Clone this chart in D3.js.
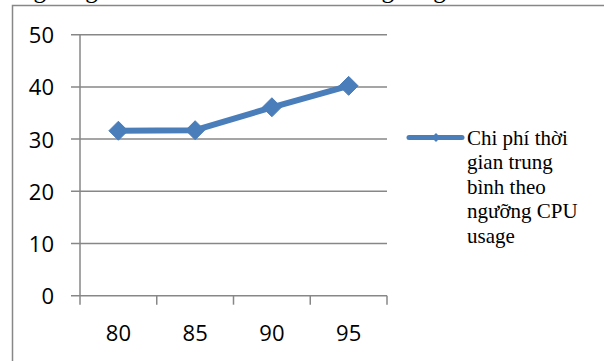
<!DOCTYPE html>
<html>
<head>
<meta charset="utf-8">
<script src="https://cdn.jsdelivr.net/npm/d3@7"></script>
<style>
  html, body { margin: 0; padding: 0; background: #fff; }
  svg { display: block; }
</style>
</head>
<body>
<svg id="chart" width="604" height="361"></svg>
<script>
// CPU usage thresholds (%) and average time cost at each threshold
const categories = ["80", "85", "90", "95"];
const values = [31.6, 31.7, 36.1, 40.2];
const yTicks = [0, 10, 20, 30, 40, 50];
const seriesName = "Chi phí thời gian trung bình theo ngưỡng CPU usage";
const legendLines = ["Chi phí thời", "gian trung", "bình theo", "ngưỡng CPU", "usage"];
const captionWords = ["ngưỡng", "ngưỡng"];

const svg = d3.select("#chart");
const gridColor = "#878787";
const blue = "#4a7ebb";

// caption line above the chart frame (only its lower edge falls inside the view)
svg.selectAll("text.caption")
  .data(captionWords)
  .join("text")
  .attr("class", "caption")
  .attr("x", (d, i) => [21, 369][i])
  .attr("y", -2.5)
  .attr("font-family", "Liberation Serif, Times New Roman, serif")
  .attr("font-size", 25)
  .attr("fill", "#000")
  .text(d => d);

// chart frame
svg.append("path")
  .attr("d", "M12.5,361 V5.5 H604")
  .attr("fill", "none")
  .attr("stroke", gridColor)
  .attr("stroke-width", 1.5);

const plot = { left: 80, right: 387, top: 34.7, bottom: 295.7 };

const x = d3.scaleBand()
  .domain(categories)
  .range([plot.left, plot.right])
  .padding(0);

const y = d3.scaleLinear()
  .domain([0, 50])
  .range([plot.bottom, plot.top]);

// horizontal gridlines with short outward ticks
svg.append("g")
  .selectAll("line")
  .data(yTicks)
  .join("line")
  .attr("x1", plot.left - 9)
  .attr("x2", plot.right)
  .attr("y1", d => y(d))
  .attr("y2", d => y(d))
  .attr("stroke", gridColor)
  .attr("stroke-width", 1.5);

// vertical axis line
svg.append("line")
  .attr("x1", plot.left).attr("x2", plot.left)
  .attr("y1", y(50)).attr("y2", y(0))
  .attr("stroke", gridColor)
  .attr("stroke-width", 1.5);

// y tick labels
const yAxis = d3.axisLeft(y).tickValues(yTicks).tickSize(0).tickPadding(0);
const gy = svg.append("g")
  .attr("transform", `translate(${plot.left - 26},0)`)
  .call(yAxis);
gy.select(".domain").remove();
gy.selectAll("text")
  .attr("font-family", "Open Sans, Lato, sans-serif")
  .attr("font-size", 22)
  .attr("fill", "#000")
  .attr("dy", "0.36em");

// category boundary ticks below the x axis
const edges = categories.map(c => x(c)).concat([x(categories[categories.length - 1]) + x.bandwidth()]);
svg.append("g")
  .selectAll("line")
  .data(edges)
  .join("line")
  .attr("x1", d => d).attr("x2", d => d)
  .attr("y1", y(0)).attr("y2", y(0) + 9)
  .attr("stroke", gridColor)
  .attr("stroke-width", 1.5);

// x tick labels
const xAxis = d3.axisBottom(x).tickSize(0).tickPadding(0);
const gx = svg.append("g")
  .attr("transform", `translate(0,${y(0) + 45})`)
  .call(xAxis);
gx.select(".domain").remove();
gx.selectAll("text")
  .attr("font-family", "Open Sans, Lato, sans-serif")
  .attr("font-size", 22)
  .attr("fill", "#000")
  .attr("dy", 0);

// data series
const pts = categories.map((c, i) => [x(c) + x.bandwidth() / 2, y(values[i])]);

svg.append("path")
  .datum(pts)
  .attr("d", d3.line())
  .attr("fill", "none")
  .attr("stroke", blue)
  .attr("stroke-width", 6)
  .attr("stroke-linejoin", "round")
  .attr("stroke-linecap", "round");

const diamond = r => `M0,${-r} L${r},0 L0,${r} L${-r},0 Z`;

svg.append("g")
  .selectAll("path")
  .data(pts)
  .join("path")
  .attr("transform", d => `translate(${d[0]},${d[1]})`)
  .attr("d", diamond(9.5))
  .attr("fill", blue)
  .attr("stroke", blue)
  .attr("stroke-width", 1);

// legend
const legend = svg.append("g").attr("aria-label", seriesName);
legend.append("line")
  .attr("x1", 409).attr("x2", 462)
  .attr("y1", 137.5).attr("y2", 137.5)
  .attr("stroke", blue)
  .attr("stroke-width", 5)
  .attr("stroke-linecap", "round");
legend.append("path")
  .attr("transform", "translate(436,137.5)")
  .attr("d", diamond(4.5))
  .attr("fill", blue);
legend.selectAll("text")
  .data(legendLines)
  .join("text")
  .attr("x", 467)
  .attr("y", (d, i) => 145 + i * 24.4)
  .attr("font-family", "Liberation Serif, Times New Roman, serif")
  .attr("font-size", 21)
  .attr("fill", "#000")
  .text(d => d);
</script>
</body>
</html>
